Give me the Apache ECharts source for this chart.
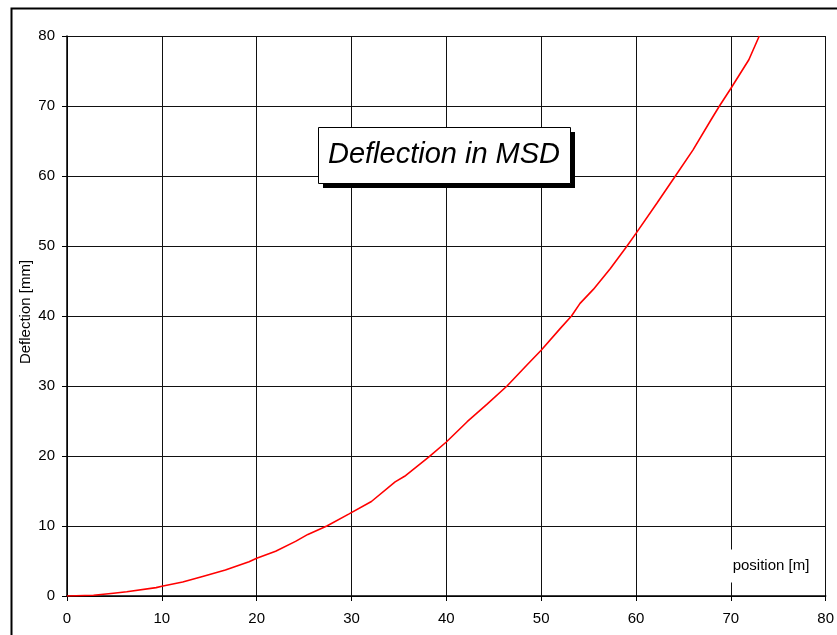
<!DOCTYPE html>
<html>
<head>
<meta charset="utf-8">
<script src="https://cdn.jsdelivr.net/npm/echarts@6/dist/echarts.min.js"></script>
<style>
html,body{margin:0;padding:0;background:#fff;overflow:hidden;}
#chart{width:837px;height:635px;}
</style>
</head>
<body>
<div id="chart"></div>
<script>
// Data
var positions = [0, 2.8, 4.9, 6.3, 9.4, 10, 12.2, 14.3, 16.7, 19.2, 20, 22, 24.1, 25.4, 27.4, 29.7, 32.1, 34.6, 35.6, 38.2, 40, 42.2, 44.3, 46.4, 48.5, 50, 52, 53.2, 54.1, 55.5, 57.3, 59, 60, 62.2, 64.1, 66, 67.9, 68.8, 70, 71.9, 73];
var deflections = [0, 0.1, 0.4, 0.6, 1.2, 1.4, 2.0, 2.8, 3.7, 4.9, 5.4, 6.4, 7.8, 8.8, 10, 11.7, 13.5, 16.3, 17.1, 19.9, 22, 24.9, 27.4, 30, 33, 35.1, 38.2, 40, 41.8, 43.8, 46.8, 49.9, 51.8, 56.1, 59.9, 63.7, 68, 70, 72.5, 76.6, 80];
var xTicks = [0, 10, 20, 30, 40, 50, 60, 70, 80];
var yTicks = [0, 10, 20, 30, 40, 50, 60, 70, 80];
var titleText = 'Deflection in MSD';
var xName = 'position [m]';
var yName = 'Deflection [mm]';

var seriesData = positions.map(function (p, i) { return [p, deflections[i]]; });
var font = "'Liberation Sans', Arial, sans-serif";

var chart = echarts.init(document.getElementById('chart'), null, {renderer: 'canvas', width: 837, height: 635});
chart.setOption({
  animation: false,
  backgroundColor: '#fff',
  grid: {left: 67, top: 36, width: 763, height: 560, containLabel: false},
  xAxis: {
    type: 'value', min: xTicks[0], max: xTicks[xTicks.length - 1], interval: 10,
    axisLine: {show: true, onZero: false, lineStyle: {color: '#000', width: 1.5}},
    axisTick: {show: true, length: 5, lineStyle: {color: '#000'}},
    axisLabel: {color: '#000', fontSize: 15, fontFamily: font, margin: 15},
    splitLine: {show: true, lineStyle: {color: '#111', width: 1}}
  },
  yAxis: {
    type: 'value', min: yTicks[0], max: yTicks[yTicks.length - 1], interval: 10,
    axisLine: {show: true, lineStyle: {color: '#000', width: 1.5}},
    axisTick: {show: true, length: 5, lineStyle: {color: '#000'}},
    axisLabel: {color: '#000', fontSize: 15, fontFamily: font, margin: 12},
    splitLine: {show: true, lineStyle: {color: '#111', width: 1}}
  },
  series: [{
    type: 'line', data: seriesData, showSymbol: false, symbol: 'none',
    lineStyle: {color: '#ff0000', width: 1.6}, z: 5
  }],
  graphic: [
    {type: 'rect', left: 9, top: 6, z: 100, silent: true,
     shape: {x: 0, y: 0, width: 900, height: 700},
     style: {fill: 'none', stroke: '#000', lineWidth: 2}},
    {type: 'text', x: 26, y: 312, rotation: Math.PI / 2, z: 102,
     style: {text: yName, fill: '#000', font: '15px ' + font, textAlign: 'center', textVerticalAlign: 'middle'}},
    {type: 'rect', left: 323, top: 132, z: 100,
     shape: {width: 252, height: 56}, style: {fill: '#000'}},
    {type: 'rect', left: 318, top: 127, z: 101,
     shape: {width: 252, height: 56}, style: {fill: '#fff', stroke: '#000', lineWidth: 1}},
    {type: 'text', x: 444, y: 155, z: 102,
     style: {text: titleText, fill: '#000', font: 'italic 29px ' + font, textAlign: 'center', textVerticalAlign: 'middle'}},
    {type: 'text', x: 771, y: 566, z: 102,
     style: {text: xName, fill: '#000', font: '15px ' + font, textAlign: 'center', textVerticalAlign: 'middle',
             backgroundColor: '#fff', padding: [9, 3]}}
  ]
});
</script>
</body>
</html>
